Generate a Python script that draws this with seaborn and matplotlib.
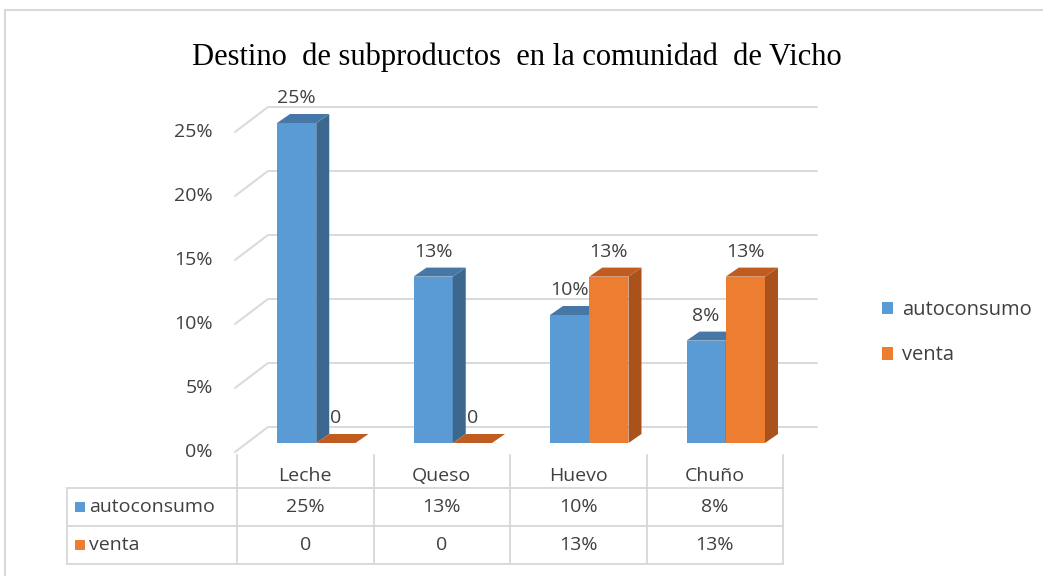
import numpy as np
import pandas as pd
import matplotlib
matplotlib.use("Agg")
import matplotlib.pyplot as plt
import seaborn as sns
from matplotlib.patches import Polygon, Rectangle, Patch
from matplotlib.transforms import ScaledTranslation, IdentityTransform

# datos del grafico
productos = ["Leche", "Queso", "Huevo", "Chuño"]
series = ["autoconsumo", "venta"]
autoconsumo = [0.25, 0.13, 0.10, 0.08]
venta = [0.0, 0.0, 0.13, 0.13]
etiquetas_auto = ["25%", "13%", "10%", "8%"]
etiquetas_venta = ["0", "0", "13%", "13%"]
ticks = [0, 0.05, 0.10, 0.15, 0.20, 0.25]
tick_labels = ["0%", "5%", "10%", "15%", "20%", "25%"]
titulo = "Destino  de subproductos  en la comunidad  de Vicho"

colores = {"autoconsumo": "#5B9BD5", "venta": "#ED7D31"}
lados = {"autoconsumo": "#3C6890", "venta": "#A9521C"}
techos = {"autoconsumo": "#4777A6", "venta": "#C05C20"}
gris = "#D9D9D9"
texto = "#404040"

W, H = 1043, 576
sns.set_theme(style="white")
plt.rcParams["font.family"] = ["Open Sans", "DejaVu Sans"]

df = pd.DataFrame({
    "producto": productos * 2,
    "destino": ["autoconsumo"] * 4 + ["venta"] * 4,
    "valor": autoconsumo + venta,
})

fig = plt.figure(figsize=(W / 100, H / 100), dpi=100)
fig.patches.append(Rectangle((5 / W, -0.1), 2, (H - 10) / H + 0.1, transform=fig.transFigure,
                             facecolor="none", edgecolor=gris, lw=1.5))

# plano frontal del grafico
ax = fig.add_axes([237 / W, (H - 452) / H, 546 / W, 320 / H])
sns.barplot(data=df, x="producto", y="valor", hue="destino", palette=colores,
            width=0.575, saturation=1, linewidth=0, legend=False, ax=ax)
ax.set_xlim(-0.5, 3.5)
ax.set_ylim(0, 0.25)
ax.autoscale(False)
ax.axis("off")

def disp(x, y, dx=0, dy=0):
    X, Y = ax.transData.transform((x, y))
    return (X + dx, Y + dy)

# rejilla en perspectiva (pared del fondo)
for v, lab in zip(ticks, tick_labels):
    pts = [disp(-0.5, v, -2, 0), disp(-0.5, v, 31, 25), disp(3.5, v, 34, 25)]
    xs, ys = zip(*pts)
    ax.add_line(plt.Line2D(xs, ys, color=gris, lw=1.4, transform=IdentityTransform(),
                           clip_on=False, zorder=0))
    ax.text(-0.5, v, lab, transform=ax.transData + ScaledTranslation(-0.24, 0, fig.dpi_scale_trans),
            ha="right", va="center", fontsize=14, color=texto)

# barras 3D
off_x, off_y = 11, 9
dep_x, dep_y = 13, 9
desplaz = ScaledTranslation(off_x / 100, off_y / 100, fig.dpi_scale_trans)
valores = {"autoconsumo": autoconsumo, "venta": venta}
etiquetas = {"autoconsumo": etiquetas_auto, "venta": etiquetas_venta}
bars = list(ax.patches)
for k, p in enumerate(bars):
    serie = series[k // 4]
    i = k % 4
    z = 2 if serie == "autoconsumo" else 3
    p.set_transform(ax.transData + desplaz)
    p.set_zorder(z)
    p.set_clip_on(False)
    x0, x1 = p.get_x(), p.get_x() + p.get_width()
    top = valores[serie][i]
    a = disp(x0, top, off_x, off_y)
    b = disp(x1, top, off_x, off_y)
    c = disp(x1, 0, off_x, off_y)
    side = [c, (c[0] + dep_x, c[1] + dep_y), (b[0] + dep_x, b[1] + dep_y), b]
    roof = [a, b, (b[0] + dep_x, b[1] + dep_y), (a[0] + dep_x, a[1] + dep_y)]
    ax.add_patch(Polygon(side, closed=True, facecolor=lados[serie], edgecolor="none",
                         transform=IdentityTransform(), zorder=z + 0.5, clip_on=False))
    ax.add_patch(Polygon(roof, closed=True, facecolor=techos[serie], edgecolor="none",
                         transform=IdentityTransform(), zorder=z + 0.5, clip_on=False))
    ax.text((x0 + x1) / 2, top, etiquetas[serie][i],
            transform=ax.transData + ScaledTranslation(off_x / 100, (off_y + 25) / 100, fig.dpi_scale_trans),
            ha="center", va="center", fontsize=14, color=texto, zorder=5, clip_on=False)

# tabla de datos
tax = fig.add_axes([237 / W, (H - 564) / H, 546 / W, 109 / H])
tax.set_xlim(-0.5, 3.5)
tax.set_ylim(0, 109 / 38)
tax.axis("off")
x_izq = -0.5 - 170 / 136.5
for yy in [0, 1, 2]:
    tax.plot([x_izq, 3.5], [yy, yy], color=gris, lw=1.4, clip_on=False)
tax.plot([x_izq, x_izq], [0, 2], color=gris, lw=1.4, clip_on=False)
for xx in np.arange(-0.5, 4, 1):
    tax.plot([xx, xx], [0, 109 / 38], color=gris, lw=1.4, clip_on=False)
for i, prod in enumerate(productos):
    tax.text(i, 2.32, prod, ha="center", va="center", fontsize=14, color=texto)
    tax.text(i, 1.5, etiquetas_auto[i], ha="center", va="center", fontsize=14, color=texto)
    tax.text(i, 0.5, etiquetas_venta[i], ha="center", va="center", fontsize=14, color=texto)
for fila, serie in zip([1.5, 0.5], series):
    tax.add_patch(Rectangle((x_izq + 0.06, fila - 0.14), 0.075, 0.28, facecolor=colores[serie],
                            edgecolor="none", clip_on=False))
    tax.text(x_izq + 0.16, fila, serie, ha="left", va="center", fontsize=14, color=texto)

# leyenda
handles = [Patch(facecolor=colores[s], edgecolor="none") for s in series]
fig.legend(handles, series, loc="upper left", bbox_to_anchor=(872 / W, (H - 290) / H),
           frameon=False, fontsize=14.5, labelcolor=texto, handlelength=0.55, handleheight=0.6,
           handletextpad=0.45, labelspacing=1.25, borderpad=0)

fig.text(517 / W, (H - 57) / H, titulo, ha="center", va="center",
         family=["Liberation Serif", "DejaVu Serif"], fontsize=22, color="black")

fig.savefig("out.png", dpi=100)
